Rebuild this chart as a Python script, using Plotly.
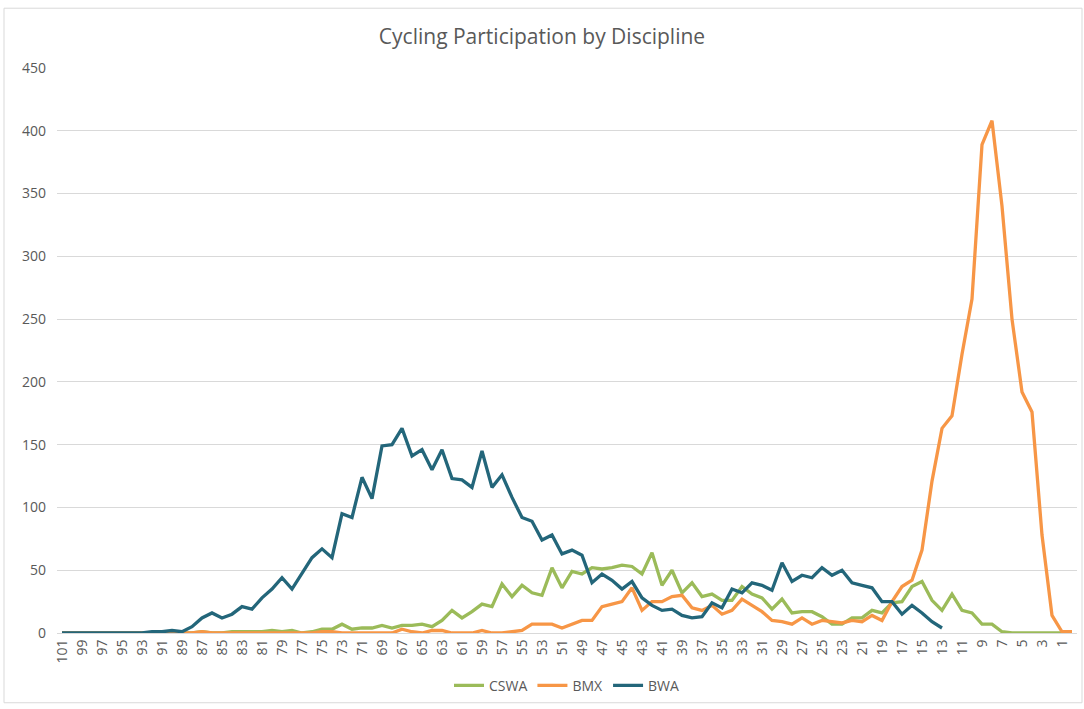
import plotly.graph_objects as go

ages = [str(a) for a in range(101, -1, -1)]

cswa = [0]*14 + [
    1, 0, 0, 1, 1, 1, 1, 2, 1, 2, 0, 1, 3, 3, 7, 3, 4,          # 87..71
    4, 6, 4, 6, 6, 7, 5, 10, 18, 12, 17, 23, 21, 39, 29, 38,     # 70..55
    32, 30, 52, 36, 49, 47, 52, 51, 52, 54, 53, 47, 64, 38, 50,  # 54..40
    32, 40, 29, 31, 26, 26, 37, 31, 28, 19, 27, 16, 17, 17, 13,  # 39..25
    7, 7, 12, 12, 18, 16, 24, 25, 37, 41, 26, 18, 31, 18, 16,    # 24..10
    7, 7, 1, 0, 0, 0, 0, 0, 0, 0                                 # 9..0
]

bmx = [0]*14 + [
    1, 0, 0, 0, 0, 0, 0, 0, 0, 0, 0, 0, 1, 1, 0, 0, 0,           # 87..71
    0, 0, 0, 3, 1, 0, 2, 2, 0, 0, 0, 2, 0, 0, 1, 2,              # 70..55
    7, 7, 7, 4, 7, 10, 10, 21, 23, 25, 36, 18, 25, 25, 29,       # 54..40
    30, 20, 18, 22, 15, 18, 27, 22, 17, 10, 9, 7, 12, 7, 10,     # 39..25
    9, 8, 10, 9, 14, 10, 25, 37, 42, 66, 121, 163, 173, 222, 266,  # 24..10
    389, 408, 340, 250, 192, 176, 78, 14, 1, 1                   # 9..0
]

bwa = [0]*9 + [
    1, 1, 2, 1, 5,                                               # 92..88
    12, 16, 12, 15, 21, 19, 28, 35, 44, 35, 48, 60, 67, 60, 95, 92, 124,  # 87..71
    107, 149, 150, 163, 141, 146, 130, 146, 123, 122, 116, 145, 116, 126, 108, 92,  # 70..55
    89, 74, 78, 63, 66, 62, 40, 47, 42, 35, 41, 28, 22, 18, 19,  # 54..40
    14, 12, 13, 24, 20, 35, 32, 40, 38, 34, 56, 41, 46, 44, 52,  # 39..25
    46, 50, 40, 38, 36, 25, 25, 15, 22, 16, 9, 4                 # 24..13
] + [None]*13

series_names = ["CSWA", "BMX", "BWA"]
series_colors = ["#9BBB59", "#F79646", "#23667A"]
series_values = [cswa, bmx, bwa]

tick_labels = [str(a) for a in range(101, 0, -2)]
y_ticks = list(range(0, 451, 50))

fig = go.Figure()
for name, col, vals in zip(series_names, series_colors, series_values):
    fig.add_trace(go.Scatter(
        x=ages, y=vals, name=name, mode="lines",
        line=dict(color=col, width=3.3), connectgaps=False,
    ))

W, H = 1084, 709
L, R, T, B = 57, 7, 68, 74
pw, ph = W - L - R, H - T - B

def px(x):
    return (x - L) / pw

def py(y):
    return (H - B - y) / ph

fig.update_layout(
    width=W, height=H,
    margin=dict(l=L, r=R, t=T, b=B),
    paper_bgcolor="white", plot_bgcolor="white",
    font=dict(family="Open Sans", size=13, color="#595959"),
    title=dict(text="Cycling Participation by Discipline", x=0.5, xanchor="center",
               y=1 - 37 / H, yanchor="middle",
               font=dict(family="Open Sans", size=21, color="#595959")),
    showlegend=True,
    legend=dict(orientation="h", x=0.5, xanchor="center", y=py(688), yanchor="middle",
                font=dict(size=14, color="#595959"), itemwidth=30,
                traceorder="normal"),
    xaxis=dict(type="category", categoryorder="array", categoryarray=ages,
               tickmode="array", tickvals=tick_labels, ticktext=tick_labels,
               tickangle=-90, showgrid=False, showline=True, linecolor="#D9D9D9",
               linewidth=1, ticks="", tickfont=dict(size=14, color="#595959"),
               range=[-0.5, len(ages) - 0.5], fixedrange=True),
    yaxis=dict(range=[0, 450], tickmode="array", tickvals=y_ticks,
               showgrid=True, gridcolor="#D9D9D9", gridwidth=1,
               zeroline=False, showline=False, ticks="",
               tickfont=dict(size=14, color="#595959"), ticklabelstandoff=10),
    shapes=[dict(type="rect", xref="paper", yref="paper",
                 x0=px(4), x1=px(1082), y0=py(705), y1=py(8),
                 line=dict(color="#D9D9D9", width=1), fillcolor="rgba(0,0,0,0)",
                 layer="below")],
)

fig.write_html("out.html", config={"displayModeBar": False},
               post_script="document.body.style.margin='0px';")
